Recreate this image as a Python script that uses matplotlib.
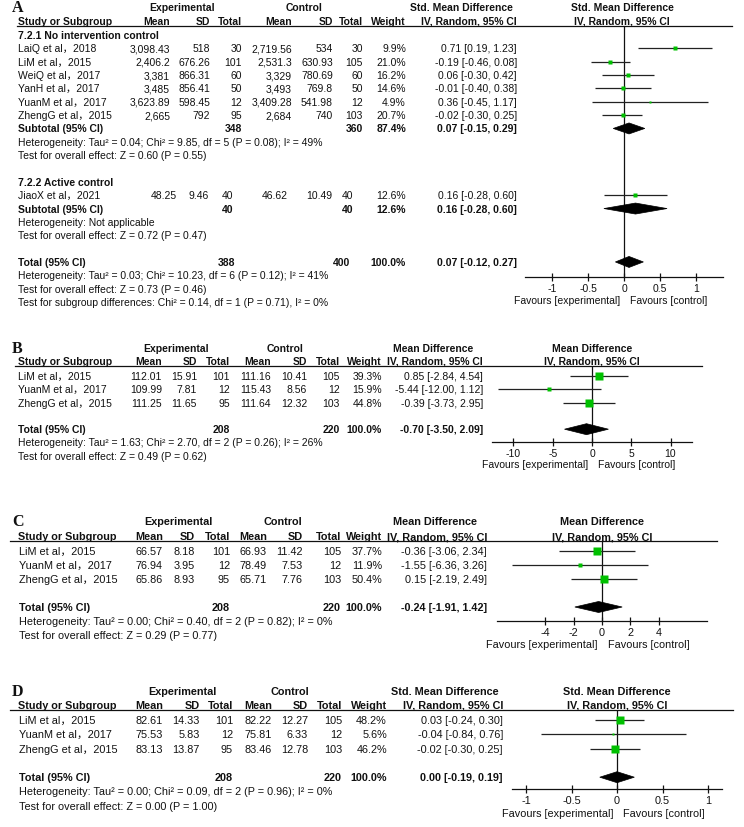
import matplotlib
matplotlib.use('Agg')
import matplotlib.pyplot as plt
from matplotlib.lines import Line2D
from matplotlib.patches import Polygon

plt.rcParams['font.family'] = ['Liberation Sans', 'Noto Sans CJK SC', 'DejaVu Sans']

W, H = 744, 828
INK = '#111111'
GREEN = '#00c000'

# ---------------- data: panel A (Std. Mean Difference, two subgroups) ----------------
a_names = ['LaiQ et al，2018', 'LiM et al，2015', 'WeiQ et al，2017',
           'YanH et al，2017', 'YuanM et al，2017', 'ZhengG et al，2015']
a_e_mean = [3098.43, 2406.2, 3381, 3485, 3623.89, 2665]
a_e_sd = [518, 676.26, 866.31, 856.41, 598.45, 792]
a_e_n = [30, 101, 60, 50, 12, 95]
a_c_mean = [2719.56, 2531.3, 3329, 3493, 3409.28, 2684]
a_c_sd = [534, 630.93, 780.69, 769.8, 541.98, 740]
a_c_n = [30, 105, 60, 50, 12, 103]
a_weight = [9.9, 21.0, 16.2, 14.6, 4.9, 20.7]
a_est = [0.71, -0.19, 0.06, -0.01, 0.36, -0.02]
a_lo = [0.19, -0.46, -0.30, -0.40, -0.45, -0.30]
a_hi = [1.23, 0.08, 0.42, 0.38, 1.17, 0.25]
a_sub1 = [348, 360, 87.4, 0.07, -0.15, 0.29]
a_sub1_text = ['Heterogeneity: Tau² = 0.04; Chi² = 9.85, df = 5 (P = 0.08); I² = 49%',
               'Test for overall effect: Z = 0.60 (P = 0.55)']

a2_name = 'JiaoX et al，2021'
a2_vals = [48.25, 9.46, 40, 46.62, 10.49, 40]
a2_eff = [12.6, 0.16, -0.28, 0.60]
a_sub2 = [40, 40, 12.6, 0.16, -0.28, 0.60]
a_sub2_text = ['Heterogeneity: Not applicable',
               'Test for overall effect: Z = 0.72 (P = 0.47)']

a_total = [388, 400, 100.0, 0.07, -0.12, 0.27]
a_total_text = ['Heterogeneity: Tau² = 0.03; Chi² = 10.23, df = 6 (P = 0.12); I² = 41%',
                'Test for overall effect: Z = 0.73 (P = 0.46)',
                'Test for subgroup differences: Chi² = 0.14, df = 1 (P = 0.71), I² = 0%']

# ---------------- data: panels B, C, D (same three studies) ----------------
bcd_names = ['LiM et al，2015', 'YuanM et al，2017', 'ZhengG et al，2015']

b_e_mean = [112.01, 109.99, 111.25]
b_e_sd = [15.91, 7.81, 11.65]
b_c_mean = [111.16, 115.43, 111.64]
b_c_sd = [10.41, 8.56, 12.32]
b_weight = [39.3, 15.9, 44.8]
b_est = [0.85, -5.44, -0.39]
b_lo = [-2.84, -12.00, -3.73]
b_hi = [4.54, 1.12, 2.95]
b_total = [-0.70, -3.50, 2.09]
b_text = ['Heterogeneity: Tau² = 1.63; Chi² = 2.70, df = 2 (P = 0.26); I² = 26%',
          'Test for overall effect: Z = 0.49 (P = 0.62)']

c_e_mean = [66.57, 76.94, 65.86]
c_e_sd = [8.18, 3.95, 8.93]
c_c_mean = [66.93, 78.49, 65.71]
c_c_sd = [11.42, 7.53, 7.76]
c_weight = [37.7, 11.9, 50.4]
c_est = [-0.36, -1.55, 0.15]
c_lo = [-3.06, -6.36, -2.19]
c_hi = [2.34, 3.26, 2.49]
c_total = [-0.24, -1.91, 1.42]
c_text = ['Heterogeneity: Tau² = 0.00; Chi² = 0.40, df = 2 (P = 0.82); I² = 0%',
          'Test for overall effect: Z = 0.29 (P = 0.77)']

d_e_mean = [82.61, 75.53, 83.13]
d_e_sd = [14.33, 5.83, 13.87]
d_c_mean = [82.22, 75.81, 83.46]
d_c_sd = [12.27, 6.33, 12.78]
d_weight = [48.2, 5.6, 46.2]
d_est = [0.03, -0.04, -0.02]
d_lo = [-0.24, -0.84, -0.30]
d_hi = [0.30, 0.76, 0.25]
d_total = [0.00, -0.19, 0.19]
d_text = ['Heterogeneity: Tau² = 0.00; Chi² = 0.09, df = 2 (P = 0.96); I² = 0%',
          'Test for overall effect: Z = 0.00 (P = 1.00)']

bcd_e_n = [101, 12, 95]
bcd_c_n = [105, 12, 103]
bcd_n_total = [208, 220]

fig = plt.figure(figsize=(W / 100, H / 100), dpi=100)
FS = 7.5


def txt(x, y, s, ha='left', bold=False, size=None, family=None):
    kw = {'family': family} if family else {}
    fig.text(x / W, 1 - y / H, s, ha=ha, va='center', fontsize=size or FS,
             fontweight='bold' if bold else 'normal', color=INK, **kw)


def hline(x0, x1, y):
    fig.add_artist(Line2D([x0 / W, x1 / W], [1 - y / H] * 2, color=INK, lw=0.9))


def fmt(v):
    return f'{v:,}'


def ci(e, l, h):
    return f'{e:.2f} [{l:.2f}, {h:.2f}]'


def header(letter, y1, y2, yl, xl0, xl1, cols, exp_c, ctl_c, eff_c, plot_c, measure):
    txt(12, y1, letter, bold=True, size=11.5, family='Liberation Serif')
    txt(exp_c, y1, 'Experimental', 'center', True)
    txt(ctl_c, y1, 'Control', 'center', True)
    txt(eff_c, y1, measure, 'center', True)
    txt(plot_c, y1, measure, 'center', True)
    txt(18, y2, 'Study or Subgroup', bold=True)
    for lab, x in zip(['Mean', 'SD', 'Total', 'Mean', 'SD', 'Total', 'Weight',
                       'IV, Random, 95% CI'], cols):
        txt(x, y2, lab, 'right', True)
    txt(plot_c, y2, 'IV, Random, 95% CI', 'center', True)
    hline(xl0, xl1, yl)


def row(y, xname, name, vals, cols, bold=False):
    txt(xname, y, name, bold=bold)
    for v, x in zip(vals, cols):
        if v is not None:
            txt(x, y, v, 'right', bold)


def forest(xl, xr, top, bot, lim, ticks, labels, yfav):
    ax = fig.add_axes([xl / W, 1 - bot / H, (xr - xl) / W, (bot - top) / H])
    ax.set_xlim(*lim)
    ax.set_ylim(bot, top)
    for s in ('top', 'left', 'right'):
        ax.spines[s].set_visible(False)
    ax.spines['bottom'].set_linewidth(0.9)
    ax.spines['bottom'].set_color(INK)
    ax.set_yticks([])
    ax.set_xticks(ticks, labels=labels)
    ax.tick_params(axis='x', direction='inout', length=6, width=0.9,
                   labelsize=FS, pad=1, colors=INK)
    ax.axvline(0, color=INK, lw=0.9)
    ax.patch.set_visible(False)
    zx = xl + (0 - lim[0]) / (lim[1] - lim[0]) * (xr - xl)
    txt(zx - 4, yfav, 'Favours [experimental]', 'right')
    txt(zx + 6, yfav, 'Favours [control]', 'left')
    return ax


def study(ax, y, e, l, h, w):
    ax.plot([l, h], [y, y], color='#222222', lw=0.9, solid_capstyle='butt', clip_on=False)
    side = 0.75 * w ** 0.62
    ax.plot(e, y, marker='s', ms=side * 0.72, color=GREEN, mec='none', zorder=3)


def diamond(ax, y, e, l, h):
    ax.add_patch(Polygon([(l, y), (e, y - 5.5), (h, y), (e, y + 5.5)], closed=True,
                         fc='black', ec='black', lw=0.5, zorder=3))


# ---------------- panel A ----------------
cols_a = [170, 210, 242, 292, 333, 363, 406, 517]
header('A', 8, 22, 27, 17, 732, cols_a, 182, 304, 461, 622, 'Std. Mean Difference')
ax_a = forest(525, 723, 27, 278, (-1.379, 1.379), [-1, -0.5, 0, 0.5, 1],
              ['-1', '-0.5', '0', '0.5', '1'], 301)
step, y0 = 13.35, 36.0
ya = [y0 + step * i for i in range(21)]
txt(18, ya[0], '7.2.1 No intervention control', bold=True)
for i in range(len(a_names)):
    vals = [fmt(a_e_mean[i]), fmt(a_e_sd[i]), fmt(a_e_n[i]), fmt(a_c_mean[i]),
            fmt(a_c_sd[i]), fmt(a_c_n[i]), f'{a_weight[i]:.1f}%',
            ci(a_est[i], a_lo[i], a_hi[i])]
    row(ya[1 + i], 18, a_names[i], vals, cols_a)
    study(ax_a, ya[1 + i], a_est[i], a_lo[i], a_hi[i], a_weight[i])
row(ya[7], 18, 'Subtotal (95% CI)',
    [None, None, str(a_sub1[0]), None, None, str(a_sub1[1]), f'{a_sub1[2]:.1f}%',
     ci(*a_sub1[3:])], cols_a, True)
diamond(ax_a, ya[7], *a_sub1[3:])
txt(18, ya[8], a_sub1_text[0])
txt(18, ya[9], a_sub1_text[1])

cols_a2 = [177, 209, 233, 288, 332, 353, 406, 517]
txt(18, ya[11], '7.2.2 Active control', bold=True)
row(ya[12], 18, a2_name, [fmt(v) for v in a2_vals] +
    [f'{a2_eff[0]:.1f}%', ci(*a2_eff[1:])], cols_a2)
study(ax_a, ya[12], a2_eff[1], a2_eff[2], a2_eff[3], a2_eff[0])
row(ya[13], 18, 'Subtotal (95% CI)',
    [None, None, str(a_sub2[0]), None, None, str(a_sub2[1]), f'{a_sub2[2]:.1f}%',
     ci(*a_sub2[3:])], cols_a2, True)
diamond(ax_a, ya[13], *a_sub2[3:])
txt(18, ya[14], a_sub2_text[0])
txt(18, ya[15], a_sub2_text[1])

cols_at = [170, 210, 235, 292, 333, 350, 406, 517]
row(ya[17], 18, 'Total (95% CI)',
    [None, None, str(a_total[0]), None, None, str(a_total[1]), f'{a_total[2]:.1f}%',
     ci(*a_total[3:])], cols_at, True)
diamond(ax_a, ya[17], *a_total[3:])
for k, s in enumerate(a_total_text):
    txt(18, ya[18 + k], s)


# ---------------- panels B, C, D ----------------
def simple_panel(letter, lay, measure, e_mean, e_sd, c_mean, c_sd, weight, est, lo, hi,
                 total, notes, lim, ticks, labels):
    (y1, y2, yl, xl0, xl1, xname, cols, exp_c, ctl_c, eff_c, plot_c,
     r0, rstep, yaxis, yfav, axl, axr) = lay
    header(letter, y1, y2, yl, xl0, xl1, cols, exp_c, ctl_c, eff_c, plot_c, measure)
    ax = forest(axl, axr, yl, yaxis, lim, ticks, labels, yfav)
    ys = [r0 + rstep * i for i in range(7)]
    for i in range(len(bcd_names)):
        vals = [fmt(e_mean[i]), fmt(e_sd[i]), fmt(bcd_e_n[i]), fmt(c_mean[i]),
                fmt(c_sd[i]), fmt(bcd_c_n[i]), f'{weight[i]:.1f}%', ci(est[i], lo[i], hi[i])]
        row(ys[i], xname, bcd_names[i], vals, cols)
        study(ax, ys[i], est[i], lo[i], hi[i], weight[i])
    row(ys[4], xname, 'Total (95% CI)',
        [None, None, str(bcd_n_total[0]), None, None, str(bcd_n_total[1]),
         f'{sum(weight):.1f}%', ci(*total)], cols, True)
    diamond(ax, ys[4], *total)
    txt(xname, ys[5], notes[0])
    txt(xname, ys[6], notes[1])


lay_b = (349, 362, 367, 15, 702, 18, [162, 197, 230, 271, 307, 340, 382, 483],
         176, 285, 433, 592, 377, 13.3, 443, 465, 492.3, 691.7)
simple_panel('B', lay_b, 'Mean Difference', b_e_mean, b_e_sd, b_c_mean, b_c_sd,
             b_weight, b_est, b_lo, b_hi, b_total, b_text, (-12.7, 12.7),
             [-10, -5, 0, 5, 10], ['-10', '-5', '0', '5', '10'])

# panels C and D were pasted in at a slightly larger scale
FS = 7.8
lay_c = (522, 537, 542, 10, 717, 19, [163, 195, 230, 267, 303, 341, 382, 487],
         178, 283, 435, 602, 552, 14.0, 622, 645, 496.9, 707.1)
simple_panel('C', lay_c, 'Mean Difference', c_e_mean, c_e_sd, c_c_mean, c_c_sd,
             c_weight, c_est, c_lo, c_hi, c_total, c_text, (-7.4, 7.4),
             [-4, -2, 0, 2, 4], ['-4', '-2', '0', '2', '4'])

lay_d = (692, 706, 711, 10, 733, 19, [163, 200, 233, 272, 308, 342, 387, 503],
         182, 290, 445, 617, 721, 14.3, 790, 814, 512.4, 721.7)
simple_panel('D', lay_d, 'Std. Mean Difference', d_e_mean, d_e_sd, d_c_mean, d_c_sd,
             d_weight, d_est, d_lo, d_hi, d_total, d_text, (-1.15, 1.15),
             [-1, -0.5, 0, 0.5, 1], ['-1', '-0.5', '0', '0.5', '1'])

fig.savefig('out.png', dpi=100)
